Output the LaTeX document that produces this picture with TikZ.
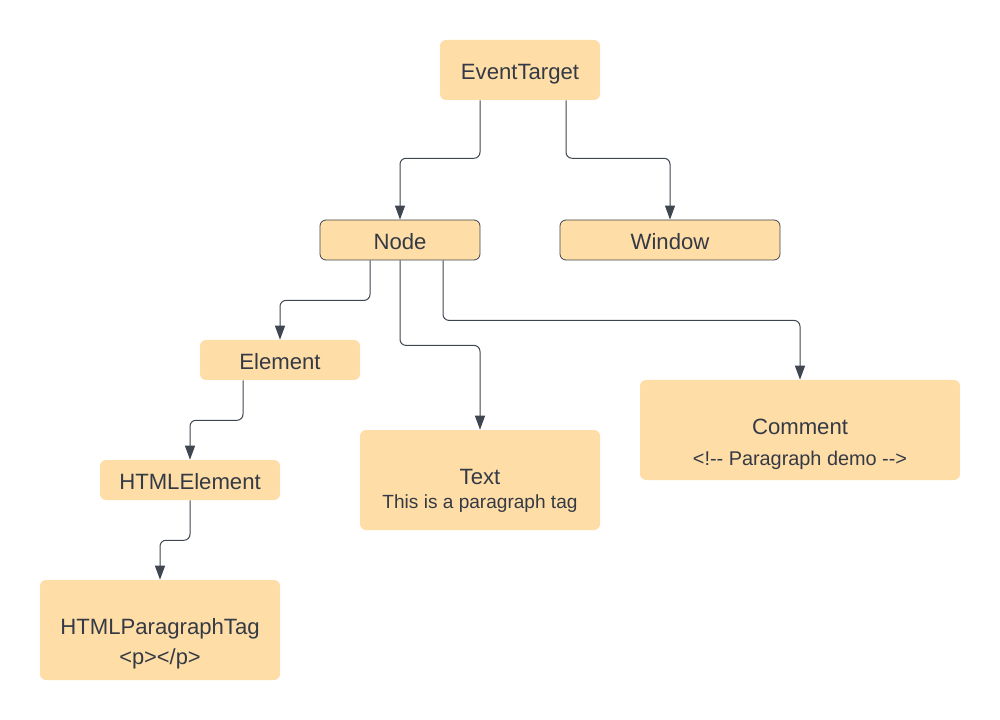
\documentclass[tikz,border=0pt]{standalone}
\usepackage{fontspec}
\setmainfont{Liberation Sans}
\usetikzlibrary{arrows.meta,calc}
\definecolor{boxfill}{HTML}{FFDDA6}
\definecolor{ink}{HTML}{333A45}
\definecolor{wire}{HTML}{3F4650}
\begin{document}
\begin{tikzpicture}[x=0.75pt,y=-0.75pt,
  box/.style 2 args={fill=boxfill,draw=none,rounded corners=4.5pt,
    minimum width={#1*0.75pt},minimum height={#2*0.75pt},inner sep=0pt,
    text=ink,font=\fontsize{16.6}{19}\selectfont,text height=14pt,text depth=0pt},
  outlined/.style={draw=wire,line width=0.6pt},
  lbl/.style={inner sep=0pt,text=ink,font=\fontsize{16.6}{19}\selectfont},
  sub/.style={inner sep=0pt,text=ink,font=\fontsize{#1}{17}\selectfont},
  conn/.style={draw=wire,line width=0.75pt,rounded corners=4.5pt,
    -{Triangle[length=10.5pt,width=7.5pt]}}]
\useasboundingbox (0,0) rectangle (1000,720);

\node[box={160}{60}] (ET) at (520,70) {EventTarget};
\node[box={160}{40},outlined] (N) at (400,240) {Node};
\node[box={220}{40},outlined] (W) at (670,240) {Window};
\node[box={160}{40}] (E) at (280,360) {Element};
\node[box={180}{40}] (HE) at (190,480) {HTMLElement};
\node[box={240}{100}] (HP) at (160,630) {};
\node[box={240}{100}] (T) at (480,480) {};
\node[box={320}{100}] (C) at (800,430) {};

\node[lbl,anchor=base] (HPa) at (160,634) {HTMLParagraphTag};
\node[sub=16.4,anchor=base] (HPb) at (160,664) {<p></p>};
\node[lbl,anchor=base] (Ta) at (480,484) {Text};
\node[sub=14.3,anchor=base] (Tb) at (480,508) {This is a paragraph tag};
\node[lbl,anchor=base] (Ca) at (800,434) {Comment};
\node[sub=14.9,anchor=base] (Cb) at (800,465) {<!-{}- Paragraph demo -{}->};

\draw[conn] ($(ET.south)+(-40,0)$) -- ++(0,58) -| (N.north);
\draw[conn] ($(ET.south)+(46,0)$) -- ++(0,58) -| (W.north);
\draw[conn] ($(N.south)+(-30,0)$) -- ++(0,40) -| (E.north);
\draw[conn] (N.south) -- ++(0,85) -| (T.north);
\draw[conn] ($(N.south)+(43,0)$) -- ++(0,60) -| (C.north);
\draw[conn] ($(E.south)+(-37,0)$) -- ++(0,40) -| (HE.north);
\draw[conn] (HE.south) -- ++(0,40) -| (HP.north);
\end{tikzpicture}
\end{document}
